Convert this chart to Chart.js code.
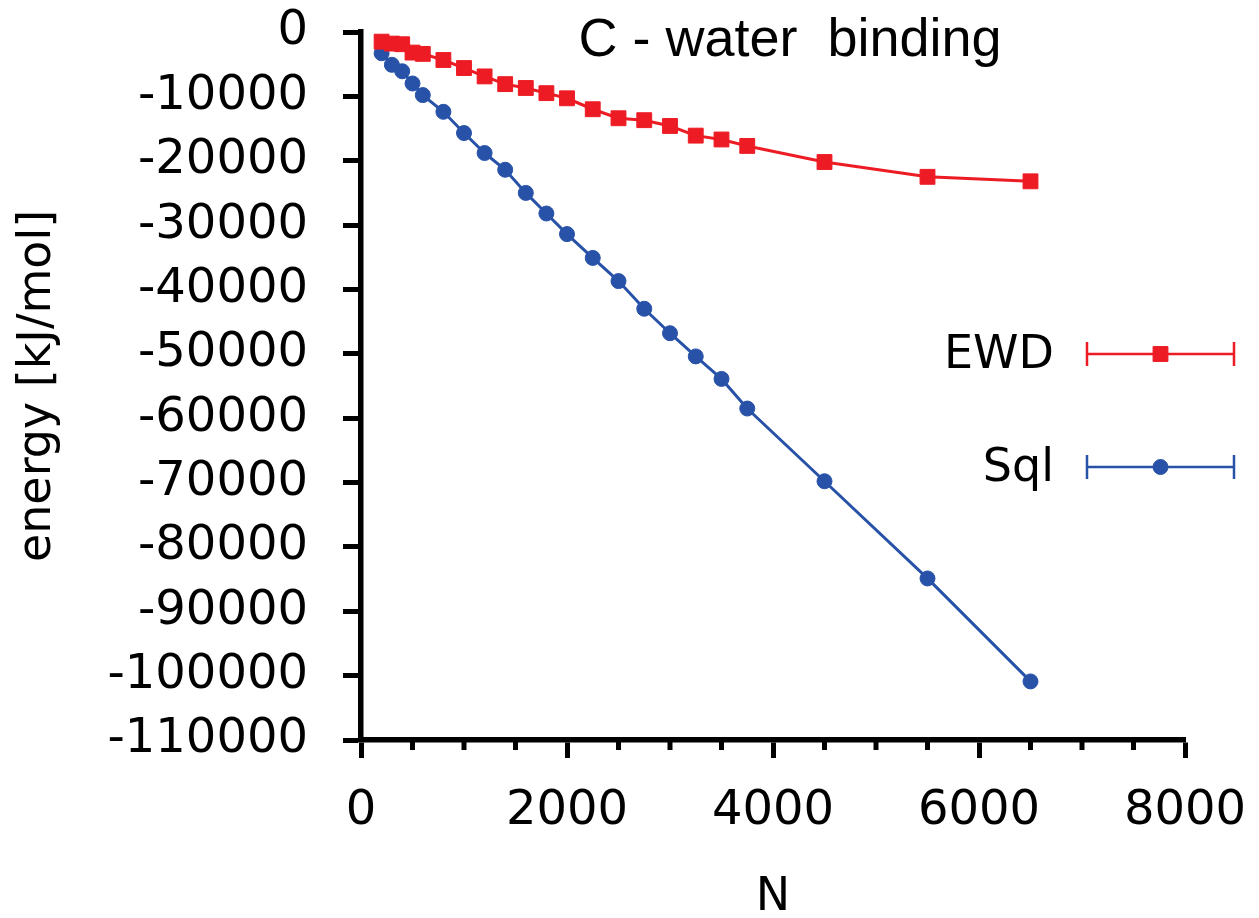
<!DOCTYPE html>
<html>
<head>
<meta charset="utf-8">
<script src="https://cdn.jsdelivr.net/npm/chart.js@4.4.1/dist/chart.umd.min.js"></script>
<style>
  html, body { margin: 0; padding: 0; background: #fff; }
</style>
</head>
<body>
<canvas id="chart" width="1259" height="918"></canvas>
<script>
/* global Chart */

// N (system size) shared by both series
const nValues = [
  200, 300, 400, 500, 600, 800, 1000, 1200, 1400, 1600, 1800, 2000,
  2250, 2500, 2750, 3000, 3250, 3500, 3750, 4500, 5500, 6500,
];

// energies in kJ/mol
const ewdEnergy = [
  -1500, -1800, -1900, -3200, -3400, -4350, -5600, -6900, -8100, -8700,
  -9500, -10300, -12000, -13400, -13700, -14600, -16100, -16700, -17700,
  -20200, -22500, -23200,
];
const sqlEnergy = [
  -3300, -5100, -6100, -8000, -9800, -12400, -15700, -18800, -21400,
  -25000, -28200, -31400, -35100, -38700, -43000, -46800, -50400, -53900,
  -58500, -69800, -84900, -100900,
];

const seriesNames = ["EWD", "Sql"];
const xRange = [0, 8000];
const yRange = [-110000, 0];
const xMajorStep = 2000;
const xMinorStep = 500;
const yStep = 10000;

const titleText = "C - water  binding";

const colors = {
  red: "#ed1c24",
  blue: "#2852a8",
  ink: "#000",
};

Chart.defaults.font.family = "'DejaVu Sans', Verdana, sans-serif";
Chart.defaults.color = colors.ink;

const toPoints = (ys) => nValues.map((n, i) => ({ x: n, y: ys[i] }));

// short minor ticks on the x axis (Chart.js only draws one tick length)
const minorTicks = {
  id: "minorTicks",
  afterDraw(chart) {
    const { ctx } = chart;
    const xs = chart.scales.x;
    ctx.save();
    ctx.strokeStyle = colors.ink;
    ctx.lineWidth = 5;
    for (const t of xs.ticks) {
      if (t.value % xMajorStep === 0) continue;
      const px = xs.getPixelForValue(t.value);
      ctx.beginPath();
      ctx.moveTo(px, xs.top);
      ctx.lineTo(px, xs.top + 10);
      ctx.stroke();
    }
    ctx.restore();
  },
};

// title sits inside the plot, so draw it rather than let Chart.js reserve room
const plotTitle = {
  id: "plotTitle",
  afterDraw(chart) {
    const { ctx, chartArea } = chart;
    ctx.save();
    ctx.font = "54px 'Liberation Sans', Arial, sans-serif";
    ctx.fillStyle = colors.ink;
    ctx.textAlign = "center";
    ctx.textBaseline = "alphabetic";
    ctx.fillText(titleText, chartArea.left + 429, chartArea.top + 24);
    ctx.restore();
  },
};

// legend with error-bar style caps, like the original
const capLegend = {
  id: "capLegend",
  afterDraw(chart) {
    const { ctx, chartArea } = chart;
    const x0 = chartArea.left + 726;
    const x1 = chartArea.left + 873;
    const rows = [chartArea.top + 322, chartArea.top + 435];
    ctx.save();
    chart.data.datasets.forEach((ds, i) => {
      const y = rows[i];
      ctx.strokeStyle = ds.borderColor;
      ctx.fillStyle = ds.backgroundColor;
      ctx.lineWidth = 2.5;
      ctx.beginPath();
      ctx.moveTo(x0, y);
      ctx.lineTo(x1, y);
      ctx.moveTo(x0, y - 12);
      ctx.lineTo(x0, y + 12);
      ctx.moveTo(x1, y - 12);
      ctx.lineTo(x1, y + 12);
      ctx.stroke();
      ctx.lineWidth = 1;
      Chart.helpers.drawPoint(ctx, {
        pointStyle: ds.pointStyle,
        radius: ds.pointRadius,
        borderWidth: 1,
        rotation: 0,
      }, (x0 + x1) / 2, y);

      ctx.font = "46px 'DejaVu Sans', Verdana, sans-serif";
      ctx.fillStyle = colors.ink;
      ctx.textAlign = "right";
      ctx.textBaseline = "middle";
      ctx.fillText(ds.label, x0 - 33, y + 2);
    });
    ctx.restore();
  },
};

// eslint-disable-next-line no-new
new Chart(document.getElementById("chart"), {
  type: "line",
  plugins: [minorTicks, plotTitle, capLegend],
  data: {
    datasets: [
      {
        label: seriesNames[0],
        data: toPoints(ewdEnergy),
        borderColor: colors.red,
        backgroundColor: colors.red,
        borderWidth: 3,
        pointStyle: "rect",
        pointRadius: 10.5,
        pointBorderWidth: 1,
      },
      {
        label: seriesNames[1],
        data: toPoints(sqlEnergy),
        borderColor: colors.blue,
        backgroundColor: colors.blue,
        borderWidth: 3,
        pointStyle: "circle",
        pointRadius: 7.5,
        pointBorderWidth: 1,
      },
    ],
  },
  options: {
    responsive: false,
    animation: false,
    layout: {
      padding: { top: 32, right: 74, left: 0, bottom: 0 },
    },
    plugins: {
      legend: { display: false },
      tooltip: { enabled: false },
    },
    scales: {
      x: {
        type: "linear",
        min: xRange[0],
        max: xRange[1],
        // fixed box; labels may overhang the plot edges like the original
        afterFit: (s) => {
          s.height = 178;
          s.paddingLeft = 0;
          s.paddingRight = 0;
        },
        border: { display: true, color: colors.ink, width: 5.5 },
        grid: {
          drawOnChartArea: false,
          drawTicks: true,
          tickLength: 18,
          tickWidth: 5,
          tickColor: (c) => (c.tick && c.tick.value % xMajorStep === 0 ? colors.ink : "rgba(0,0,0,0)"),
        },
        ticks: {
          stepSize: xMinorStep,
          autoSkip: false,
          maxRotation: 0,
          padding: 25,
          font: { size: 48 },
          color: colors.ink,
          callback: (v) => (v % xMajorStep === 0 ? String(v) : ""),
        },
        title: {
          display: true,
          text: "N",
          color: colors.ink,
          font: { size: 46, lineHeight: 0.8 },
          padding: { top: 0, bottom: 2 },
        },
      },
      y: {
        min: yRange[0],
        max: yRange[1],
        afterFit: (s) => {
          s.width = 361;
          s.paddingTop = 0;
          s.paddingBottom = 0;
        },
        border: { display: true, color: colors.ink, width: 5.5 },
        grid: {
          drawOnChartArea: false,
          drawTicks: true,
          tickLength: 18,
          tickWidth: 5,
          tickColor: colors.ink,
        },
        ticks: {
          stepSize: yStep,
          autoSkip: false,
          padding: 35,
          font: { size: 48 },
          color: colors.ink,
          callback: (v) => String(v),
        },
        title: {
          display: true,
          text: "energy [kJ/mol]",
          color: colors.ink,
          font: { size: 46 },
          padding: { top: 10, bottom: 0 },
        },
      },
    },
  },
});
</script>
</body>
</html>
